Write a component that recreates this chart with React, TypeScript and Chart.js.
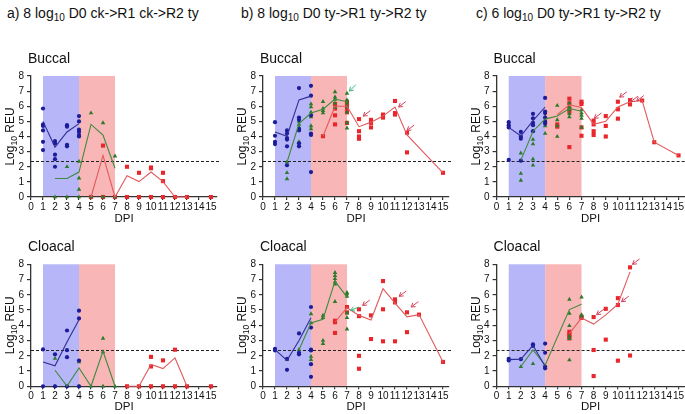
import React, { useEffect, useRef } from "react";
import { Chart, registerables } from "chart.js";
Chart.register(...registerables);

// ---------- axes / reference ----------
const xTicks = [0, 1, 2, 3, 4, 5, 6, 7, 8, 9, 10, 11, 12, 13, 14, 15];
const yTicks = [0, 1, 2, 3, 4, 5, 6, 7, 8];
const X_MAX = 15.5;
const Y_MAX = 8;
const THRESHOLD = 2.4;
const bandR1 = [1, 4];
const bandR2 = [4, 7];

type DayPts = [number, number[]][];
type Arrow = [number, number, number, string];

// ---------- panel a, buccal ----------
const aBucBluePts: DayPts = [[1, [5.85, 4.8, 4.7, 4.4, 3.65, 3.1]], [2, [3.7, 3.55, 2.8, 2.5, 2.0]], [3, [4.75, 4.65, 3.45, 3.35]], [4, [5.35, 5.0, 4.45, 4.3, 4.1, 4.0]]];
const aBucGreenPts: DayPts = [[2, [0]], [3, [2.0, 0]], [4, [2.35, 1.25, 0.5, 0]], [5, [5.55, 0]], [6, [4.9, 0]], [7, [2.7, 0]]];
const aBucRedPts: DayPts = [[5, [0]], [6, [3.4, 0]], [7, [0]], [8, [2.0, 0]], [9, [1.6, 0]], [10, [1.95, 1.9, 0]], [11, [1.6, 1.05, 0]], [12, [0]], [13, [0]], [15, [0]]];
const aBucBlueDays = [1, 2, 3, 4];
const aBucBlueMean = [5.0, 3.3, 4.3, 4.85];
const aBucGreenDays = [2, 3, 4, 5, 6, 7];
const aBucGreenMean = [1.22, 1.22, 1.65, 4.8, 4.1, 1.9];
const aBucRedDays = [5, 6, 7, 8, 9, 10, 11, 12, 13];
const aBucRedMean = [0, 2.75, 0, 1.4, 1.02, 1.65, 1.02, 0, 0];
const aBucArrows: Arrow[] = [];

// ---------- panel a, cloacal ----------
const aCloBluePts: DayPts = [[1, [2.42, 0]], [2, [2.1, 0]], [3, [3.66, 2.37, 1.91, 0]], [4, [4.96, 4.45, 1.69, 0]]];
const aCloGreenPts: DayPts = [[2, [1.82, 0]], [3, [0]], [4, [1.6, 0]], [5, [0]], [6, [3.14, 2.26, 0]], [7, [0]]];
const aCloRedPts: DayPts = [[8, [0]], [9, [0]], [10, [1.93, 1.3, 0]], [11, [1.7, 0]], [12, [2.4, 0]], [13, [0]], [15, [0]]];
const aCloBlueDays = [1, 2, 3, 4];
const aCloBlueMean = [1.6, 1.34, 2.9, 4.36];
const aCloGreenDays = [2, 3, 4, 5, 6, 7];
const aCloGreenMean = [1.05, 0.02, 1.2, 0, 2.3, 0];
const aCloRedDays = [8, 9, 10, 11, 12, 13];
const aCloRedMean = [0, 0, 1.43, 1.16, 1.86, 0];
const aCloArrows: Arrow[] = [];

// ---------- panel b, buccal ----------
const bBucBluePts: DayPts = [[1, [4.95, 4.05, 3.65, 3.5]], [2, [4.4, 4.2, 3.9, 3.8, 3.35, 2.1]], [3, [7.2, 5.25, 5.1, 4.5, 4.4, 3.55, 3.35]], [4, [7.35, 6.7, 5.4, 4.2, 4.1, 1.65]]];
const bBucGreenPts: DayPts = [[2, [2.3, 1.6, 1.2]], [3, [5.0, 4.8, 4.6, 3.65, 3.4]], [4, [6.15, 5.95, 5.6, 5.3, 4.7, 4.5]], [5, [6.3, 5.85, 5.7, 5.55]], [6, [6.95, 6.6, 6.45, 6.2, 5.9]], [7, [6.85, 6.4, 6.2, 5.95, 5.6, 4.9, 4.55]]];
const bBucRedPts: DayPts = [[5, [4.02]], [6, [6.15, 5.85, 5.4, 4.8]], [7, [6.3, 6.1, 5.85, 5.6, 4.9]], [8, [5.15, 4.35, 4.0, 3.85]], [9, [5.1, 4.9, 4.6]], [10, [5.45, 5.35, 5.25]], [11, [6.35, 5.55, 5.45]], [12, [4.25, 2.95]], [15, [1.6]]];
const bBucBlueDays = [1, 2, 3, 4];
const bBucBlueMean = [4.3, 4.02, 6.42, 6.67];
const bBucGreenDays = [2, 3, 4, 5, 6, 7];
const bBucGreenMean = [2.3, 4.85, 5.55, 5.8, 6.48, 6.3];
const bBucRedDays = [5, 6, 7, 8, 9, 10, 11, 12, 15];
const bBucRedMean = [4.02, 6.0, 6.0, 4.65, 4.95, 5.35, 5.95, 4.1, 1.6];
const bBucArrows: Arrow[] = [[7.2, 7.0, 45, "g"], [8.35, 5.35, 37, "r"], [11.3, 5.95, 37, "r"], [12.0, 4.4, 37, "r"]];

// ---------- panel b, cloacal ----------
const bCloBluePts: DayPts = [[1, [2.45, 2.35]], [2, [1.8, 1.08]], [3, [3.47, 2.2, 2.1]], [4, [5.2, 3.85, 2.4, 2.35, 1.45, 0.62]]];
const bCloGreenPts: DayPts = [[2, [1.75]], [3, [2.4]], [4, [4.75, 4.15, 1.95, 1.75]], [5, [4.65, 4.5, 3.0, 2.8]], [6, [7.45, 7.25, 7.05, 6.85, 6.7, 5.55]], [7, [6.15, 6.05, 5.9, 4.8, 4.5, 3.75]]];
const bCloRedPts: DayPts = [[6, [4.3, 4.2, 3.5]], [7, [5.2, 4.85]], [8, [5.05, 4.6, 2.0, 1.15]], [9, [4.65, 3.1]], [10, [6.9, 5.05, 2.95]], [11, [5.7, 5.5, 2.95]], [12, [4.85, 3.55]], [13, [4.7]], [15, [1.6]]];
const bCloBlueDays = [1, 2, 3, 4];
const bCloBlueMean = [2.4, 1.7, 3.0, 4.5];
const bCloGreenDays = [3, 4, 5, 6, 7];
const bCloGreenMean = [2.4, 4.15, 4.4, 6.9, 5.85];
const bCloRedDays = [6, 7, 8, 9, 10, 11, 12, 13, 15];
const bCloRedMean = [4.2, 5.15, 4.65, 4.35, 6.4, 5.45, 4.55, 4.7, 1.6];
const bCloArrows: Arrow[] = [[7.3, 4.98, 22, "g"], [8.3, 5.3, 37, "r"], [11.35, 5.9, 37, "r"], [12.35, 5.2, 37, "r"]];

// ---------- panel c, buccal ----------
const cBucBluePts: DayPts = [[1, [4.95, 4.75, 4.6, 2.45]], [2, [4.3, 4.0, 3.85, 2.4]], [3, [5.5, 5.2, 4.9, 4.75, 4.35]], [4, [6.55, 5.65, 5.55, 5.25, 5.0, 4.85]]];
const cBucGreenPts: DayPts = [[2, [2.9, 1.55, 1.1]], [3, [3.8, 3.5, 2.5, 2.1]], [4, [5.3, 5.0, 4.7, 4.2]], [5, [6.05, 5.1, 4.7, 4.0]], [6, [6.2, 5.95, 5.75, 5.5, 5.3]], [7, [5.75, 5.55, 5.4, 5.2, 4.6]]];
const cBucRedPts: DayPts = [[5, [4.8, 4.65]], [6, [6.5, 6.2, 5.85, 5.65, 3.3]], [7, [6.3, 6.15, 4.6, 4.05]], [8, [5.05, 4.8, 4.35, 4.1]], [9, [5.35, 4.7, 4.0]], [10, [6.3, 5.8, 5.18]], [11, [6.4, 6.12]], [12, [6.38]], [13, [3.62]], [15, [2.75]]];
const cBucBlueDays = [1, 2, 3, 4];
const cBucBlueMean = [4.6, 4.03, 5.05, 5.95];
const cBucGreenDays = [2, 3, 4, 5, 6, 7];
const cBucGreenMean = [2.42, 4.35, 5.15, 5.35, 5.85, 5.67];
const cBucRedDays = [5, 6, 7, 8, 9, 10, 11, 12, 13, 15];
const cBucRedMean = [5.45, 6.1, 5.92, 4.8, 5.0, 5.95, 6.3, 6.38, 3.62, 2.75];
const cBucArrows: Arrow[] = [[8.05, 5.2, 37, "r"], [10.15, 6.6, 37, "r"], [11.05, 6.3, 37, "r"], [11.55, 6.35, 37, "r"]];

// ---------- panel c, cloacal ----------
const cCloBluePts: DayPts = [[1, [1.8, 1.7]], [2, [1.78]], [3, [2.75, 2.65]], [4, [2.8, 2.2, 1.28, 1.18]]];
const cCloGreenPts: DayPts = [[2, [1.28]], [3, [1.48]], [4, [1.35]], [6, [5.7, 4.78, 3.97, 3.28, 3.12, 1.72]], [7, [5.85, 4.68, 4.58]]];
const cCloRedPts: DayPts = [[6, [3.58, 3.42, 3.28, 3.14]], [7, [4.56, 4.48]], [8, [4.54, 2.38, 0.67]], [9, [5.08, 3.06]], [10, [5.78, 5.33, 1.68]], [11, [7.8, 2.02]]];
const cCloBlueDays = [1, 2, 3, 4];
const cCloBlueMean = [1.75, 1.78, 2.68, 1.32];
const cCloGreenDays = [2, 3, 4, 6, 7];
const cCloGreenMean = [1.3, 2.38, 1.38, 5.03, 5.38];
const cCloRedDays = [6, 7, 8, 9, 10, 11];
const cCloRedMean = [3.45, 4.48, 4.08, 4.68, 5.38, 7.5];
const cCloArrows: Arrow[] = [[11.2, 8.0, 37, "r"], [8.25, 4.7, 37, "r"], [10.3, 5.55, 37, "r"]];

// ---------- styles ----------
const FONT = "'Liberation Sans', Arial, sans-serif";
const BLUE_PT = "#1c1c9a";
const GREEN_PT = "#2c7a2c";
const RED_PT = "#e8262b";
const BLUE_LN = "#2f2f98";
const GREEN_LN = "#3f8a3f";
const RED_LN = "#e25a5c";
const BAND_BLUE = "#b6b6f8";
const BAND_RED = "#f9b6b6";
const AXIS = "#333333";
const ARROW_COLORS: Record<string, string> = { r: "#d6405a", g: "#3cb878" };

const flatten = (p: DayPts) => {
  const out: { x: number; y: number }[] = [];
  p.forEach(([d, vs]) => vs.forEach((v) => out.push({ x: d, y: v })));
  return out;
};
const lineOf = (days: number[], vals: number[]) => days.map((d, i) => ({ x: d, y: vals[i] }));

interface Spec {
  label: string;
  blue: DayPts; green: DayPts; red: DayPts;
  blueLine: [number[], number[]]; greenLine: [number[], number[]]; redLine: [number[], number[]];
  arrows: Arrow[];
}
interface Geo { left: number; top: number; width: number; height: number; yAxisW: number; padTop: number; padRight: number; xAxisH: number; dpiPad: number; }

function Panel({ spec, geo }: { spec: Spec; geo: Geo }) {
  const ref = useRef<HTMLCanvasElement>(null);
  useEffect(() => {
    const canvas = ref.current!;
    const decor = {
      id: "decor",
      beforeDraw(chart: any) {
        const { ctx, scales: { x, y } } = chart;
        ctx.save();
        const yT = y.getPixelForValue(Y_MAX);
        const yB = y.getPixelForValue(0);
        ctx.fillStyle = BAND_BLUE;
        ctx.fillRect(x.getPixelForValue(bandR1[0]), yT, x.getPixelForValue(bandR1[1]) - x.getPixelForValue(bandR1[0]), yB - yT);
        ctx.fillStyle = BAND_RED;
        ctx.fillRect(x.getPixelForValue(bandR2[0]), yT, x.getPixelForValue(bandR2[1]) - x.getPixelForValue(bandR2[0]), yB - yT);
        const ty = Math.round(y.getPixelForValue(THRESHOLD)) + 0.5;
        ctx.setLineDash([3, 2]);
        ctx.strokeStyle = "#222";
        ctx.lineWidth = 1;
        ctx.beginPath();
        ctx.moveTo(x.getPixelForValue(0), ty);
        ctx.lineTo(x.getPixelForValue(X_MAX) + 2, ty);
        ctx.stroke();
        ctx.restore();
      },
      afterDatasetsDraw(chart: any) {
        const { ctx, scales: { x, y } } = chart;
        ctx.save();
        ctx.lineWidth = 1;
        spec.arrows.forEach(([ax, ay, ang, c]) => {
          const px = x.getPixelForValue(ax);
          const py = y.getPixelForValue(ay);
          const a = (ang * Math.PI) / 180;
          const L = 9;
          ctx.strokeStyle = ARROW_COLORS[c];
          ctx.beginPath();
          ctx.moveTo(px, py);
          ctx.lineTo(px + L * Math.cos(a), py - L * Math.sin(a));
          const h = 4.5;
          [a + 0.55, a - 0.55].forEach((b) => {
            ctx.moveTo(px, py);
            ctx.lineTo(px + h * Math.cos(b), py - h * Math.sin(b));
          });
          ctx.stroke();
        });
        ctx.restore();
      },
      afterDraw(chart: any) {
        const { ctx, chartArea } = chart;
        ctx.save();
        ctx.fillStyle = "#111";
        ctx.textBaseline = "middle";
        ctx.textAlign = "left";
        ctx.font = `14px ${FONT}`;
        ctx.fillText(spec.label, chartArea.left - 3, chartArea.top - 17);
        // y title with subscript
        const f1 = `12px ${FONT}`;
        const f2 = `8.5px ${FONT}`;
        ctx.font = f1;
        const w1 = ctx.measureText("Log").width;
        const w3 = ctx.measureText(" REU").width;
        ctx.font = f2;
        const w2 = ctx.measureText("10").width;
        const total = w1 + w2 + w3;
        ctx.translate(chartArea.left - 21, (chartArea.top + chartArea.bottom) / 2);
        ctx.rotate(-Math.PI / 2);
        ctx.textBaseline = "alphabetic";
        let cx = -total / 2;
        ctx.font = f1;
        ctx.fillText("Log", cx, 4);
        cx += w1;
        ctx.font = f2;
        ctx.fillText("10", cx, 7);
        cx += w2;
        ctx.font = f1;
        ctx.fillText(" REU", cx, 4);
        ctx.restore();
      },
    };
    const ptDs = (data: any, color: string, style: string, r: number) => ({
      type: "scatter" as const, data, pointStyle: style, pointRadius: r, pointBackgroundColor: color,
      pointBorderColor: color, pointBorderWidth: 0, showLine: false, clip: false as any,
    });
    const lnDs = (d: [number[], number[]], color: string) => ({
      type: "line" as const, data: lineOf(d[0], d[1]), borderColor: color, borderWidth: 1.1,
      pointRadius: 0, fill: false, tension: 0, clip: false as any,
    });
    const chart = new Chart(canvas, {
      type: "scatter",
      data: {
        datasets: [
          lnDs(spec.blueLine, BLUE_LN),
          lnDs(spec.greenLine, GREEN_LN),
          lnDs(spec.redLine, RED_LN),
          ptDs(flatten(spec.blue), BLUE_PT, "circle", 2.1),
          ptDs(flatten(spec.green), GREEN_PT, "triangle", 2.6),
          ptDs(flatten(spec.red), RED_PT, "rect", 2.9),
        ] as any,
      },
      options: {
        responsive: false,
        animation: false,
        devicePixelRatio: 1,
        events: [],
        layout: { padding: { left: 0, top: geo.padTop, right: geo.padRight, bottom: 0 } },
        plugins: { legend: { display: false }, tooltip: { enabled: false }, title: { display: false } },
        scales: {
          x: {
            type: "linear", min: 0, max: X_MAX,
            afterBuildTicks: (s: any) => { s.ticks = xTicks.map((v) => ({ value: v })); },
            afterFit: (s: any) => { s.height = geo.xAxisH; },
            ticks: { autoSkip: false, maxRotation: 0, font: { size: 10, family: FONT }, color: "#111", padding: 1, callback: (v: any) => String(v) },
            grid: { drawOnChartArea: false, drawTicks: true, tickLength: 3, color: AXIS, lineWidth: 1.2 },
            border: { display: true, color: AXIS, width: 1.3 },
            title: { display: true, text: "DPI", font: { size: 11.5, family: FONT }, color: "#111", padding: { top: 0, bottom: geo.dpiPad } },
          },
          y: {
            type: "linear", min: 0, max: Y_MAX,
            afterBuildTicks: (s: any) => { s.ticks = yTicks.map((v) => ({ value: v })); },
            afterFit: (s: any) => { s.width = geo.yAxisW; },
            ticks: { autoSkip: false, font: { size: 10, family: FONT }, color: "#111", padding: 3, callback: (v: any) => String(v) },
            grid: { drawOnChartArea: false, drawTicks: true, tickLength: 4, color: AXIS, lineWidth: 1.2 },
            border: { display: true, color: AXIS, width: 1.3 },
          },
        },
      } as any,
      plugins: [decor],
    });
    return () => chart.destroy();
  }, []);
  return (
    <canvas ref={ref} width={geo.width} height={geo.height}
      style={{ position: "absolute", left: geo.left, top: geo.top, width: geo.width, height: geo.height }} />
  );
}

const specs: Spec[] = [
  { label: "Buccal", blue: aBucBluePts, green: aBucGreenPts, red: aBucRedPts, blueLine: [aBucBlueDays, aBucBlueMean], greenLine: [aBucGreenDays, aBucGreenMean], redLine: [aBucRedDays, aBucRedMean], arrows: aBucArrows },
  { label: "Buccal", blue: bBucBluePts, green: bBucGreenPts, red: bBucRedPts, blueLine: [bBucBlueDays, bBucBlueMean], greenLine: [bBucGreenDays, bBucGreenMean], redLine: [bBucRedDays, bBucRedMean], arrows: bBucArrows },
  { label: "Buccal", blue: cBucBluePts, green: cBucGreenPts, red: cBucRedPts, blueLine: [cBucBlueDays, cBucBlueMean], greenLine: [cBucGreenDays, cBucGreenMean], redLine: [cBucRedDays, cBucRedMean], arrows: cBucArrows },
  { label: "Cloacal", blue: aCloBluePts, green: aCloGreenPts, red: aCloRedPts, blueLine: [aCloBlueDays, aCloBlueMean], greenLine: [aCloGreenDays, aCloGreenMean], redLine: [aCloRedDays, aCloRedMean], arrows: aCloArrows },
  { label: "Cloacal", blue: bCloBluePts, green: bCloGreenPts, red: bCloRedPts, blueLine: [bCloBlueDays, bCloBlueMean], greenLine: [bCloGreenDays, bCloGreenMean], redLine: [bCloRedDays, bCloRedMean], arrows: bCloArrows },
  { label: "Cloacal", blue: cCloBluePts, green: cCloGreenPts, red: cCloRedPts, blueLine: [cCloBlueDays, cCloBlueMean], greenLine: [cCloGreenDays, cCloGreenMean], redLine: [cCloRedDays, cCloRedMean], arrows: cCloArrows },
];

const cols = [
  { left: 0, width: 228, yAxisW: 31, padRight: 11 },
  { left: 228, width: 232, yAxisW: 35, padRight: 11 },
  { left: 460, width: 230, yAxisW: 36.6, padRight: 5.4 },
];
const rows = [
  { top: 40, height: 188, padTop: 36, xAxisH: 31, dpiPad: 2.4 },
  { top: 228, height: 186, padTop: 36.3, xAxisH: 27.7, dpiPad: 0.7 },
];

const headings = [
  { left: 7, pre: "a) 8 log", post: " D0 ck->R1 ck->R2 ty" },
  { left: 241, pre: "b) 8 log", post: " D0 ty->R1 ty->R2 ty" },
  { left: 476, pre: "c) 6 log", post: " D0 ty->R1 ty->R2 ty" },
];

export default function App() {
  return (
    <div style={{ position: "absolute", left: 0, top: 0, width: 685, height: 414, overflow: "hidden", background: "#fff", fontFamily: FONT }}>
      {headings.map((h, i) => (
        <div key={i} style={{ position: "absolute", left: h.left, top: 4, fontSize: 14, lineHeight: "18px", color: "#111", whiteSpace: "nowrap" }}>
          {h.pre}
          <sub style={{ fontSize: 10, verticalAlign: "-3px", lineHeight: 0 }}>10</sub>
          {h.post}
        </div>
      ))}
      {specs.map((s, i) => {
        const c = cols[i % 3];
        const r = rows[Math.floor(i / 3)];
        return <Panel key={i} spec={s} geo={{ ...c, ...r }} />;
      })}
    </div>
  );
}
